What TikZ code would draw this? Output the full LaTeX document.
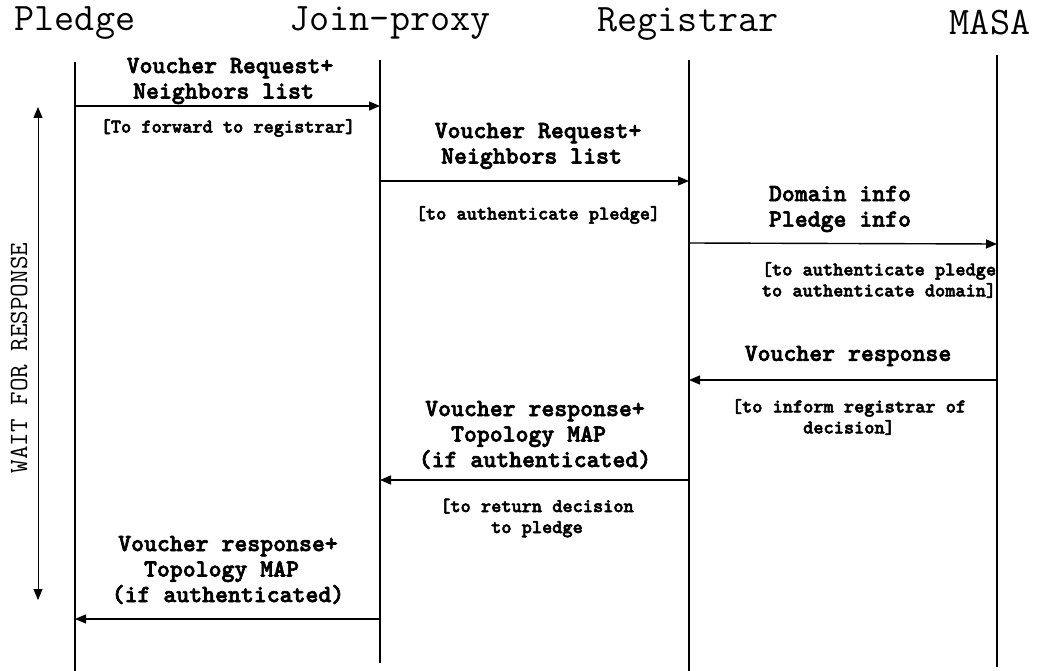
\documentclass[tikz,border=0pt]{standalone}
\usepackage{fontspec}
\newfontfamily\monobold[Extension=.otf, FakeBold=2.6]{lmmonolt10-bold}
\usetikzlibrary{arrows.meta}
\tikzset{
  actor/.style={font=\ttfamily\fontsize{39}{40}\selectfont, inner sep=0pt, anchor=center},
  lifeline/.style={line width=1.6pt, black},
  msg/.style={line width=1.4pt, -{Triangle[length=11pt,width=9pt]}},
  msglabel/.style={font=\monobold\fontsize{24.6}{25.5}\selectfont, align=center, inner sep=0pt},
  note/.style={font=\monobold\fontsize{19.4}{21}\selectfont, align=center, inner sep=0pt},
  waitarrow/.style={line width=0.9pt, {Triangle[length=11pt,width=9pt]}-{Triangle[length=11pt,width=9pt]}},
}
\newcommand{\pad}{\hphantom{x}}
\begin{document}
\begin{tikzpicture}[x=1pt,y=-1pt]
\useasboundingbox (0,0) rectangle (1042,671);

% participants
\node[actor] (pledge) at (75,23) {Pledge};
\node[actor] (proxy) at (390,23) {Join-proxy};
\node[actor] (reg) at (688,24) {Registrar};
\node[actor] (masa) at (990,23) {MASA};

% lifelines
\coordinate (pT) at (75,62);  \coordinate (pB) at (75,671);
\coordinate (jT) at (380,60); \coordinate (jB) at (380,663);
\coordinate (rT) at (689,60); \coordinate (rB) at (689,671);
\coordinate (mT) at (997,55); \coordinate (mB) at (997,667);
\draw[lifeline] (pT) -- (pB);
\draw[lifeline] (jT) -- (jB);
\draw[lifeline] (rT) -- (rB);
\draw[lifeline] (mT) -- (mB);

% message end points on the lifelines
\coordinate (a1s) at (75,106);  \coordinate (a1e) at (380,106);
\coordinate (a2s) at (380,181); \coordinate (a2e) at (689,181);
\coordinate (a3s) at (689,243); \coordinate (a3e) at (997,244);
\coordinate (a4s) at (997,380); \coordinate (a4e) at (689,380);
\coordinate (a5s) at (689,480); \coordinate (a5e) at (380,480);
\coordinate (a6s) at (380,619); \coordinate (a6e) at (75,619);

\draw[msg] (a1s) -- (a1e);
\draw[msg] (a2s) -- (a2e);
\draw[msg] (a3s) -- (a3e);
\draw[msg] (a4s) -- (a4e);
\draw[msg] (a5s) -- (a5e);
\draw[msg] (a6s) -- (a6e);

% message labels
\node[msglabel] (l1) at (230,81) {Voucher Request+\\Neighbors list\pad};
\node[note] (n1) at (228,128) {[To forward to registrar]};

\node[msglabel] (l2) at (538,146) {Voucher Request+\\Neighbors list\pad};
\node[note] (n2) at (538,215) {[to authenticate pledge]};

\node[msglabel] (l3) at (840,209) {Domain info\\Pledge info};
\node[note] (n3) at (879,280) {[to authenticate pledge\\to authenticate domain]};

\node[msglabel] (l4) at (848,356) {Voucher response};
\node[note] (n4) at (849,417) {[to inform registrar of\\decision]};

\node[msglabel] (l5) at (535,435) {Voucher response+\\Topology MAP\pad\\(if authenticated)};
\node[note] (n5) at (537,518) {[to return decision\\to pledge};

\node[msglabel] (l6) at (228,570) {Voucher response+\\Topology MAP\pad\\(if authenticated)};

% waiting period
\coordinate (wT) at (38,107);
\coordinate (wB) at (38,600);
\draw[waitarrow] (wT) -- (wB);
\node[font=\ttfamily\fontsize{26.3}{28}\selectfont, rotate=90, inner sep=0pt] (wait) at (19,358) {WAIT FOR RESPONSE};
\end{tikzpicture}
\end{document}
